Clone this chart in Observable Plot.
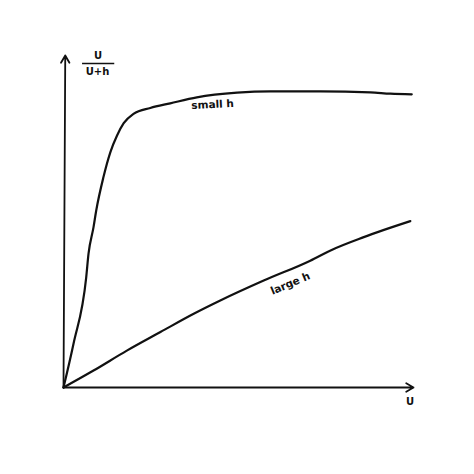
<!DOCTYPE html>
<html>
<head>
<meta charset="utf-8">
<script src="https://cdn.jsdelivr.net/npm/d3@7"></script>
<script src="https://cdn.jsdelivr.net/npm/@observablehq/plot@0.6"></script>
<style>
  html, body { margin: 0; padding: 0; background: #fff; }
  #chart { width: 474px; height: 474px; }
</style>
</head>
<body>
<div id="chart"></div>
<script>
// Curve "small h": U values and U/(U+h)
const smallU = [0, 0.286, 0.649, 0.715, 0.858, 0.935, 1.14, 1.34, 1.53, 1.72, 2.0, 2.48, 3.05, 3.81, 4.96, 5.91, 7.34, 8.77, 9.34, 9.95];
const smallY = [0, 0.132, 0.332, 0.403, 0.483, 0.533, 0.633, 0.709, 0.759, 0.796, 0.824, 0.842, 0.856, 0.874, 0.888, 0.892, 0.892, 0.889, 0.885, 0.883];
// Curve "large h"
const largeU = [0, 0.858, 1.81, 2.77, 3.72, 4.48, 5.72, 7.05, 7.63, 8.58, 9.91];
const largeY = [0, 0.051, 0.111, 0.167, 0.222, 0.262, 0.322, 0.382, 0.413, 0.453, 0.501];

// Axis extents (data units)
const uMax = 10;
const yMax = 1;

// Labels
const curveLabels = [
  {u: 4.26, y: 0.852, text: "small h", rotate: -3},
  {u: 6.48, y: 0.313, text: "large h", rotate: -23}
];
const axisLabels = [
  {u: 9.9, y: -0.042, text: "U"},
  {u: 0.99, y: 1.0, text: "U"},
  {u: 0.97, y: 0.952, text: "U+h"}
];
const fractionBar = [{u1: 0.53, u2: 1.45, y: 0.976}];

const small = smallU.map((u, i) => ({u, y: smallY[i]}));
const large = largeU.map((u, i) => ({u, y: largeY[i]}));

const font = "DejaVu Sans";

const chart = Plot.plot({
  width: 474,
  height: 474,
  marginLeft: 63,
  marginRight: 61,
  marginTop: 55,
  marginBottom: 87,
  x: {domain: [0, uMax], axis: null},
  y: {domain: [0, yMax], axis: null},
  style: {background: "#fff", fontFamily: font},
  marks: [
    Plot.arrow([{x1: 0, y1: 0, x2: uMax, y2: 0}], {x1: "x1", y1: "y1", x2: "x2", y2: "y2", stroke: "#111", strokeWidth: 1.8, headLength: 7, bend: 0}),
    Plot.arrow([{x1: 0, y1: 0, x2: 0.05, y2: yMax}], {x1: "x1", y1: "y1", x2: "x2", y2: "y2", stroke: "#111", strokeWidth: 1.8, headLength: 7, bend: 0}),
    Plot.line(small, {x: "u", y: "y", stroke: "#111", strokeWidth: 2.2, curve: "monotone-x"}),
    Plot.line(large, {x: "u", y: "y", stroke: "#111", strokeWidth: 2.2, curve: "monotone-x"}),
    Plot.text(curveLabels, {x: "u", y: "y", text: "text", rotate: "rotate", fontSize: 10.5, fontWeight: "bold", fill: "#111"}),
    Plot.text(axisLabels, {x: "u", y: "y", text: "text", fontSize: 10, fontWeight: "bold", fill: "#111"}),
    Plot.link(fractionBar, {x1: "u1", x2: "u2", y1: "y", y2: "y", stroke: "#111", strokeWidth: 1.5})
  ]
});
document.getElementById("chart").appendChild(chart);
</script>
</body>
</html>
